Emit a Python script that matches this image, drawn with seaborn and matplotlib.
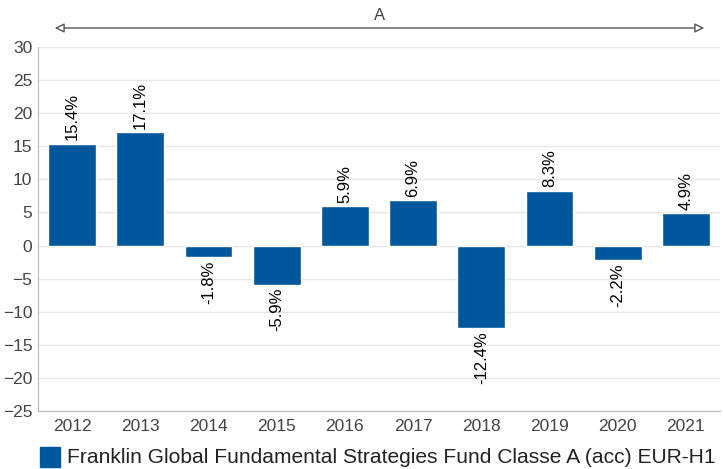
import matplotlib.pyplot as plt
import seaborn as sns
import pandas as pd

years = ["2012", "2013", "2014", "2015", "2016", "2017", "2018", "2019", "2020", "2021"]
returns = [15.4, 17.1, -1.8, -5.9, 5.9, 6.9, -12.4, 8.3, -2.2, 4.9]
fund_name = "Franklin Global Fundamental Strategies Fund Classe A (acc) EUR-H1"
period_label = "A"

df = pd.DataFrame({"Year": years, "Return": returns})

sns.set_style("white")
plt.rcParams['font.family'] = ['Liberation Sans', 'DejaVu Sans']

fig = plt.figure(figsize=(7.23, 4.69), dpi=100)
ax = fig.add_axes([38 / 723, 1 - 411 / 469, 682 / 723, 364 / 469])

bar_color = "#00579b"
sns.barplot(data=df, x="Year", y="Return", color=bar_color, width=0.7,
            saturation=1, ax=ax, zorder=3)

ax.set_ylim(-25, 30)
ax.set_yticks(range(-25, 31, 5))
ax.grid(axis="y", color="#e6e6e6", linewidth=1, zorder=0)
ax.set_xlabel("")
ax.set_ylabel("")
for s in ["top", "right"]:
    ax.spines[s].set_visible(False)
for s in ["left", "bottom"]:
    ax.spines[s].set_color("#bbbbbb")
ax.tick_params(axis="both", colors="#444444", labelsize=12.5, length=0)
ax.tick_params(axis="x", pad=6)
ax.tick_params(axis="y", pad=4)

for i, v in enumerate(returns):
    if v >= 0:
        ax.text(i, v + 0.5, f"{v:.1f}%", rotation=90, ha="center", va="bottom",
                fontsize=12, color="black")
    else:
        ax.text(i, v - 0.5, f"{v:.1f}%", rotation=90, ha="center", va="top",
                fontsize=12, color="black")

# period arrow above the plot
ax.annotate("", xy=(707 / 723, 1 - 28 / 469), xytext=(52 / 723, 1 - 28 / 469),
            xycoords="figure fraction", textcoords="figure fraction",
            arrowprops=dict(arrowstyle="<|-|>", edgecolor="#555555", lw=1,
                            facecolor="white", mutation_scale=14))
fig.text(380 / 723, 1 - 16 / 469, period_label, ha="center", va="center",
         fontsize=12, color="#444444")

# legend
fig.patches.append(plt.Rectangle((40 / 723, 1 - 467 / 469), 20 / 723, 20 / 469,
                                 transform=fig.transFigure, color=bar_color))
fig.text(67 / 723, 1 - 457 / 469, fund_name, ha="left", va="center",
         fontsize=15.1, color="#222222")

plt.savefig("out.png", dpi=100)
